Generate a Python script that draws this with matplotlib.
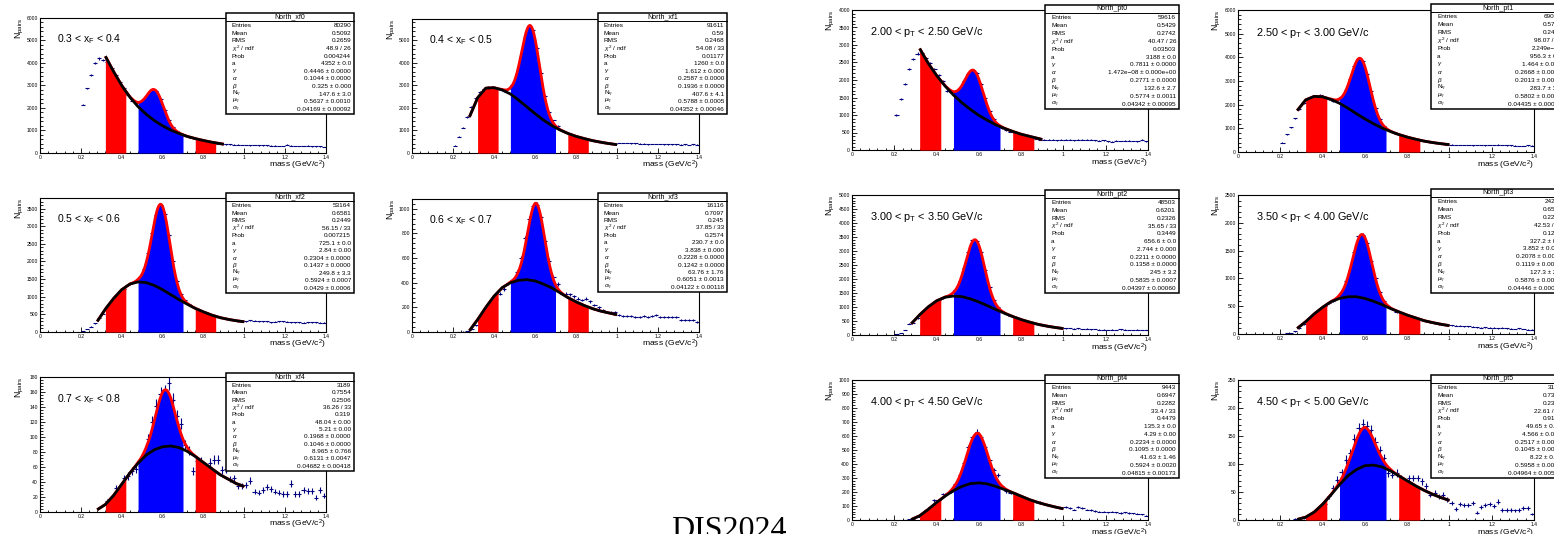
import numpy as np
import matplotlib
matplotlib.use('Agg')
import matplotlib.pyplot as plt
from matplotlib.patches import Rectangle
from matplotlib.ticker import MultipleLocator, FuncFormatter

plt.rcParams['font.family'] = ['Liberation Sans', 'DejaVu Sans']
plt.rcParams['mathtext.fontset'] = 'custom'
plt.rcParams['mathtext.rm'] = 'Liberation Sans'
plt.rcParams['mathtext.it'] = 'Liberation Sans:italic'
plt.rcParams['mathtext.bf'] = 'Liberation Sans:bold'

W, H = 1554, 534

# di-photon mass histogram: 60 bins of 20 MeV between 0.2 and 1.4 GeV
mass_edges = np.linspace(0.2, 1.4, 61)
mass = 0.5 * (mass_edges[:-1] + mass_edges[1:])

# background fit sampled along the fit range
bg_mass_long = [0.28, 0.32, 0.36, 0.40, 0.44, 0.48, 0.52, 0.56, 0.60, 0.64,
                0.68, 0.72, 0.76, 0.80, 0.84, 0.88, 0.92, 0.96, 1.00]
bg_mass_short = [0.32, 0.36, 0.40, 0.44, 0.48, 0.52, 0.56, 0.60, 0.64, 0.68,
                 0.72, 0.76, 0.80, 0.84, 0.88, 0.90]

# integration windows: sidebands (red) and eta peak (blue)
windows = [(0.32, 0.42), (0.48, 0.70), (0.76, 0.86)]
window_colors = ['#ff0000', '#0000ff', '#ff0000']

# ---------------- x_F bins ----------------
counts_xf0 = [2150, 2870, 3450, 4000, 4200, 4150, 4050, 3780, 3460, 3150,
              2880, 2560, 2330, 2200, 2250, 2400, 2620, 2780, 2760, 2420,
              1930, 1480, 1150, 960, 840, 760, 700, 650, 610, 560,
              520, 480, 450, 420, 400, 390, 385, 370, 365, 355,
              360, 345, 350, 340, 335, 340, 325, 330, 320, 315,
              370, 330, 315, 320, 305, 330, 300, 295, 300, 275]
bg_xf0 = [4300, 3620, 3000, 2480, 2060, 1720, 1440, 1210, 1020, 870,
          740, 640, 555, 480, 420, 390]

counts_xf1 = [330, 720, 1120, 1600, 2060, 2450, 2700, 2850, 2930, 2950,
              2900, 2820, 2760, 2850, 3040, 3500, 4280, 5100, 5620, 5450,
              4650, 3550, 2550, 1800, 1450, 1200, 1020, 930, 850, 770,
              710, 660, 610, 570, 530, 490, 460, 430, 400, 380,
              440, 440, 440, 430, 430, 420, 420, 390, 400, 400,
              400, 390, 390, 380, 390, 370, 380, 360, 380, 370]
bg_xf1 = [1600, 2450, 2880, 2900, 2800, 2620, 2350, 2050, 1750, 1470,
          1230, 1030, 870, 740, 640, 550, 480, 420, 370]

counts_xf2 = [30, 80, 150, 250, 400, 520, 720, 820, 1000, 1150,
              1230, 1330, 1400, 1440, 1560, 1800, 2230, 2800, 3320, 3600,
              3350, 2750, 2020, 1450, 1080, 900, 780, 720, 640, 600,
              560, 500, 470, 430, 400, 370, 350, 330, 310, 300,
              300, 330, 320, 310, 300, 310, 280, 290, 300, 300,
              290, 270, 280, 270, 260, 280, 280, 270, 260, 260]
bg_xf2 = [300, 650, 950, 1200, 1360, 1420, 1400, 1320, 1200, 1060,
          920, 790, 670, 570, 480, 410, 360, 320, 290]

counts_xf3 = [0, 2, 4, 8, 22, 55, 120, 135, 185, 230,
              270, 310, 350, 395, 420, 490, 600, 760, 920, 1020,
              1030, 930, 740, 580, 450, 390, 310, 310, 305, 290,
              270, 260, 270, 250, 220, 200, 180, 160, 160, 160,
              140, 130, 130, 130, 120, 120, 130, 125, 130, 135,
              120, 120, 120, 120, 125, 100, 100, 95, 95, 80]
bg_xf3 = [10, 100, 200, 290, 360, 400, 420, 425, 415, 390,
          360, 320, 280, 245, 215, 190, 170, 155, 140]

counts_xf4 = [0, 0, 0, 0, 0, 0, 15, 13, 32, 18,
              45, 48, 55, 57, 62, 75, 97, 120, 142, 158,
              160, 172, 150, 128, 118, 90, 82, 55, 68, 68,
              56, 66, 70, 70, 56, 57, 44, 45, 35, 35,
              36, 42, 27, 26, 29, 33, 31, 27, 26, 24,
              24, 38, 24, 24, 29, 28, 28, 19, 29, 22]
bg_xf4 = [3, 10, 22, 37, 52, 65, 76, 83, 87, 88,
          86, 81, 74, 66, 58, 50, 44, 38, 34]

# ---------------- p_T bins ----------------
counts_pt0 = [1000, 1450, 1880, 2320, 2600, 2750, 2760, 2620, 2480, 2300,
              2150, 1980, 1700, 1660, 1640, 1780, 1980, 2180, 2260, 2200,
              1880, 1480, 1120, 880, 720, 620, 560, 520, 480, 440,
              410, 370, 340, 320, 300, 290, 300, 290, 280, 290,
              300, 290, 280, 300, 300, 290, 290, 280, 270, 280,
              250, 240, 270, 260, 270, 270, 260, 250, 290, 250]
bg_pt0 = [2900, 2480, 2130, 1830, 1570, 1350, 1160, 990, 850, 720,
          620, 530, 450, 390, 330, 300]

counts_pt1 = [400, 750, 1050, 1420, 1800, 2050, 2250, 2330, 2370, 2420,
              2330, 2230, 2150, 2200, 2320, 2600, 3080, 3650, 3940, 3850,
              3300, 2560, 1880, 1400, 1090, 940, 840, 770, 710, 660,
              610, 560, 520, 480, 445, 410, 385, 360, 335, 315,
              310, 300, 300, 300, 290, 280, 300, 290, 280, 290,
              300, 310, 290, 280, 280, 270, 260, 260, 280, 270]
bg_pt1 = [1750, 2200, 2350, 2330, 2220, 2060, 1850, 1620, 1400, 1200,
          1020, 870, 740, 630, 540, 460, 400, 350, 310]

counts_pt2 = [20, 80, 180, 400, 430, 600, 790, 940, 1060, 1170,
              1250, 1320, 1370, 1420, 1600, 1920, 2380, 2960, 3380, 3360,
              2960, 2320, 1720, 1260, 990, 850, 760, 690, 630, 580,
              530, 480, 440, 400, 370, 330, 300, 280, 260, 240,
              240, 250, 230, 240, 220, 230, 200, 210, 190, 190,
              180, 190, 170, 200, 190, 180, 170, 190, 180, 170]
bg_pt2 = [400, 720, 1000, 1220, 1350, 1390, 1370, 1290, 1180, 1050,
          910, 780, 660, 550, 460, 380, 320, 270, 230]

counts_pt3 = [5, 10, 20, 45, 100, 180, 250, 320, 400, 450,
              500, 560, 600, 650, 740, 960, 1150, 1480, 1760, 1780,
              1640, 1320, 1000, 760, 600, 500, 450, 400, 380, 350,
              320, 280, 270, 250, 230, 215, 195, 180, 165, 155,
              160, 150, 150, 140, 140, 130, 120, 115, 120, 110,
              110, 100, 110, 100, 95, 90, 100, 90, 80, 75]
bg_pt3 = [100, 220, 360, 480, 580, 640, 670, 670, 640, 590,
          530, 460, 400, 340, 290, 240, 205, 175, 150]

counts_pt4 = [0, 0, 2, 4, 10, 22, 45, 70, 95, 140,
              140, 185, 190, 200, 255, 320, 410, 520, 590, 630,
              590, 520, 430, 360, 320, 240, 205, 195, 190, 175,
              165, 150, 140, 130, 125, 115, 105, 100, 90, 85,
              95, 85, 75, 95, 85, 75, 70, 65, 60, 60,
              55, 60, 55, 50, 55, 50, 48, 45, 40, 30]
bg_pt4 = [3, 30, 75, 125, 170, 210, 240, 260, 265, 258,
          240, 218, 195, 170, 145, 125, 108, 93, 80]

counts_pt5 = [0, 0, 0, 2, 2, 4, 6, 10, 15, 18,
              28, 42, 58, 72, 85, 108, 120, 145, 165, 172,
              168, 160, 140, 125, 110, 84, 81, 84, 75, 63,
              75, 75, 75, 69, 61, 45, 48, 42, 45, 36,
              30, 20, 29, 26, 26, 30, 13, 23, 26, 29,
              25, 33, 18, 18, 18, 17, 18, 21, 22, 11]
bg_pt5 = [1, 5, 14, 28, 45, 63, 79, 90, 97, 98,
          95, 88, 79, 70, 61, 53, 46, 40, 35]

# peak position / width from the fit, and fitted value at the peak
eta_mu = [0.5637, 0.5788, 0.5924, 0.6051, 0.6131,
          0.5774, 0.5802, 0.5835, 0.5876, 0.5924, 0.5958]
eta_sigma = [0.04169, 0.04352, 0.0429, 0.04122, 0.04682,
             0.04342, 0.04435, 0.04397, 0.04446, 0.04815, 0.04964]
eta_top = [2800, 5650, 3620, 1045, 163,
           2270, 3950, 3400, 1790, 620, 165]

names = ['North_xf0', 'North_xf1', 'North_xf2', 'North_xf3', 'North_xf4',
         'North_pt0', 'North_pt1', 'North_pt2', 'North_pt3', 'North_pt4', 'North_pt5']
labels = [r'0.3 < x$_{\mathrm{F}}$ < 0.4', r'0.4 < x$_{\mathrm{F}}$ < 0.5',
          r'0.5 < x$_{\mathrm{F}}$ < 0.6', r'0.6 < x$_{\mathrm{F}}$ < 0.7',
          r'0.7 < x$_{\mathrm{F}}$ < 0.8',
          r'2.00 < p$_{\mathrm{T}}$ < 2.50 GeV/c', r'2.50 < p$_{\mathrm{T}}$ < 3.00 GeV/c',
          r'3.00 < p$_{\mathrm{T}}$ < 3.50 GeV/c', r'3.50 < p$_{\mathrm{T}}$ < 4.00 GeV/c',
          r'4.00 < p$_{\mathrm{T}}$ < 4.50 GeV/c', r'4.50 < p$_{\mathrm{T}}$ < 5.00 GeV/c']
ymax = [6000, 5950, 3800, 1080, 180, 4000, 6000, 5000, 2500, 1000, 250]
ystep = [1000, 1000, 500, 200, 20, 500, 1000, 500, 500, 100, 50]

stat_names = ['Entries', 'Mean', 'RMS', r'$\chi^{2}$ / ndf', 'Prob', 'a',
              r'$\gamma$', r'$\alpha$', r'$\beta$', r'N$_{\eta}$', r'$\mu_{\eta}$', r'$\sigma_{\eta}$']
stats_xf0 = ['80290', '0.5092', '0.2659', '48.9 / 26', '0.004244', '4352 ± 0.0',
             '0.4446 ± 0.0000', '0.1044 ± 0.0000', '0.325 ± 0.000', '147.6 ± 3.0',
             '0.5637 ± 0.0010', '0.04169 ± 0.00092']
stats_xf1 = ['91611', '0.59', '0.2468', '54.08 / 33', '0.01177', '1260 ± 0.0',
             '1.612 ± 0.000', '0.2587 ± 0.0000', '0.1936 ± 0.0000', '407.6 ± 4.1',
             '0.5788 ± 0.0005', '0.04352 ± 0.00046']
stats_xf2 = ['53164', '0.6581', '0.2449', '56.15 / 33', '0.007215', '725.1 ± 0.0',
             '2.84 ± 0.00', '0.2304 ± 0.0000', '0.1437 ± 0.0000', '249.8 ± 3.3',
             '0.5924 ± 0.0007', '0.0429 ± 0.0006']
stats_xf3 = ['16116', '0.7097', '0.245', '37.85 / 33', '0.2574', '230.7 ± 0.0',
             '3.838 ± 0.000', '0.2228 ± 0.0000', '0.1242 ± 0.0000', '63.76 ± 1.76',
             '0.6051 ± 0.0013', '0.04122 ± 0.00118']
stats_xf4 = ['3189', '0.7554', '0.2506', '36.26 / 33', '0.319', '48.04 ± 0.00',
             '5.21 ± 0.00', '0.1968 ± 0.0000', '0.1046 ± 0.0000', '8.965 ± 0.766',
             '0.6131 ± 0.0047', '0.04682 ± 0.00418']
stats_pt0 = ['59616', '0.5429', '0.2742', '40.47 / 26', '0.03503', '3188 ± 0.0',
             '0.7811 ± 0.0000', '1.472e−08 ± 0.000e+00', '0.2771 ± 0.0000', '132.6 ± 2.7',
             '0.5774 ± 0.0011', '0.04342 ± 0.00095']
stats_pt1 = ['69084', '0.5784', '0.2493', '98.07 / 33', '2.249e−09', '956.3 ± 0.0',
             '1.464 ± 0.000', '0.2668 ± 0.0000', '0.2013 ± 0.0000', '283.7 ± 3.5',
             '0.5802 ± 0.0006', '0.04435 ± 0.00052']
stats_pt2 = ['48503', '0.6201', '0.2326', '35.65 / 33', '0.3449', '656.6 ± 0.0',
             '2.744 ± 0.000', '0.2211 ± 0.0000', '0.1358 ± 0.0000', '245 ± 3.2',
             '0.5835 ± 0.0007', '0.04397 ± 0.00060']
stats_pt3 = ['24287', '0.6528', '0.2241', '42.53 / 33', '0.1238', '327.2 ± 0.0',
             '3.852 ± 0.000', '0.2078 ± 0.0000', '0.1119 ± 0.0000', '127.3 ± 2.4',
             '0.5876 ± 0.0010', '0.04446 ± 0.00083']
stats_pt4 = ['9443', '0.6947', '0.2282', '33.4 / 33', '0.4479', '135.3 ± 0.0',
             '4.29 ± 0.00', '0.2234 ± 0.0000', '0.1095 ± 0.0000', '41.63 ± 1.46',
             '0.5924 ± 0.0020', '0.04815 ± 0.00173']
stats_pt5 = ['3137', '0.7325', '0.2338', '22.61 / 33', '0.9132', '49.65 ± 0.00',
             '4.566 ± 0.000', '0.2517 ± 0.0000', '0.1045 ± 0.0000', '8.22 ± 0.81',
             '0.5958 ± 0.0060', '0.04964 ± 0.00552']

all_counts = [counts_xf0, counts_xf1, counts_xf2, counts_xf3, counts_xf4,
              counts_pt0, counts_pt1, counts_pt2, counts_pt3, counts_pt4, counts_pt5]
all_bg = [bg_xf0, bg_xf1, bg_xf2, bg_xf3, bg_xf4,
          bg_pt0, bg_pt1, bg_pt2, bg_pt3, bg_pt4, bg_pt5]
all_bg_mass = [bg_mass_short, bg_mass_long, bg_mass_long, bg_mass_long, bg_mass_long,
               bg_mass_short, bg_mass_long, bg_mass_long, bg_mass_long, bg_mass_long, bg_mass_long]
all_stats = [stats_xf0, stats_xf1, stats_xf2, stats_xf3, stats_xf4,
             stats_pt0, stats_pt1, stats_pt2, stats_pt3, stats_pt4, stats_pt5]

# pad frames (left, top, right, bottom) and stat boxes (left, top, width, height), in pixels
frames = [(40, 18, 326, 153), (412, 19, 699, 153),
          (40, 198, 326, 332), (412, 199, 699, 332),
          (40, 377, 326, 512),
          (852, 10, 1148, 150), (1238, 10, 1534, 152),
          (852, 195, 1148, 335), (1238, 195, 1534, 334),
          (852, 380, 1148, 520), (1238, 380, 1534, 520)]
boxes = [(226, 13, 128, 101), (598, 13, 129, 101),
         (226, 193, 128, 100), (598, 193, 129, 99),
         (226, 373, 128, 98),
         (1045, 5, 134, 104), (1431, 4, 134, 105),
         (1045, 190, 134, 103), (1431, 189, 134, 104),
         (1045, 375, 134, 103), (1431, 375, 134, 103)]

fig = plt.figure(figsize=(W / 100, H / 100), dpi=100)


def fx(px):
    return px / W


def fy(py):
    return 1 - py / H


def stat_box(box, title, values):
    x0, y0, w, h = box
    fig.add_artist(Rectangle((fx(x0), fy(y0 + h)), w / W, h / H, transform=fig.transFigure,
                             facecolor='white', edgecolor='black', lw=1.1, zorder=5))
    title_h = 8
    fig.add_artist(plt.Line2D([fx(x0), fx(x0 + w)], [fy(y0 + title_h)] * 2,
                              transform=fig.transFigure, color='black', lw=0.7, zorder=6))
    fig.text(fx(x0 + w / 2), fy(y0 + title_h / 2), title, ha='center', va='center',
             fontsize=5, zorder=7)
    row_h = (h - title_h - 2) / len(values)
    for i, (nm, val) in enumerate(zip(stat_names, values)):
        yc = y0 + title_h + 1 + row_h * (i + 0.5)
        fig.text(fx(x0 + 6), fy(yc), nm, ha='left', va='center', fontsize=4.6, zorder=7)
        fig.text(fx(x0 + w - 3), fy(yc), val, ha='right', va='center', fontsize=4.6, zorder=7)


tick_fmt = FuncFormatter(lambda v, p: '%g' % v)

for i in range(len(names)):
    l, t, r, b = frames[i]
    ax = fig.add_axes([fx(l), fy(b), (r - l) / W, (b - t) / H])
    counts = np.asarray(all_counts[i], dtype=float)
    keep = counts > 0
    ax.errorbar(mass[keep], counts[keep], xerr=0.01, yerr=0.7 * np.sqrt(counts[keep]),
                fmt='none', ecolor='#000080', elinewidth=0.8, zorder=2)

    bgx, bgy = all_bg_mass[i], all_bg[i]
    amp = eta_top[i] - np.interp(eta_mu[i], bgx, bgy)

    def fit_total(x):
        return np.interp(x, bgx, bgy) + amp * np.exp(-0.5 * ((x - eta_mu[i]) / eta_sigma[i]) ** 2)

    for (lo, hi), c in zip(windows, window_colors):
        xs = np.linspace(lo, hi, 120)
        ax.fill_between(xs, 0, fit_total(xs), color=c, lw=0, zorder=3)
    xs = np.linspace(bgx[0], bgx[-1], 600)
    ax.plot(xs, fit_total(xs), color='#ff0000', lw=2.0, zorder=4, solid_capstyle='butt')
    ax.plot(bgx, bgy, color='black', lw=2.0, zorder=5, solid_capstyle='butt')

    ax.set_xlim(0, 1.4)
    ax.set_ylim(0, ymax[i])
    ax.xaxis.set_major_locator(MultipleLocator(0.2))
    ax.xaxis.set_minor_locator(MultipleLocator(0.04))
    ax.yaxis.set_major_locator(MultipleLocator(ystep[i]))
    ax.yaxis.set_minor_locator(MultipleLocator(ystep[i] / 5))
    ax.xaxis.set_major_formatter(tick_fmt)
    ax.yaxis.set_major_formatter(tick_fmt)
    ax.tick_params(which='both', direction='in', top=False, right=False,
                   labelsize=3.6, width=0.6, pad=1.5, colors='black')
    ax.tick_params(which='major', length=3.6)
    ax.tick_params(which='minor', length=1.8)
    for sp in ax.spines.values():
        sp.set_linewidth(0.8)

    ax.text(0.06, 0.84, labels[i], transform=ax.transAxes, ha='left', va='center',
            fontsize=7.5 if i < 5 else 7.8)
    ax.text(-0.07, 1.0, r'N$_{\mathrm{pairs}}$', transform=ax.transAxes, rotation=90,
            ha='center', va='top', fontsize=6.2)
    ax.text(1.0, -0.045, r'mass (GeV/c$^{2}$)', transform=ax.transAxes,
            ha='right', va='top', fontsize=6.1)

    stat_box(boxes[i], names[i], all_stats[i])

fig.text(fx(729), fy(538), 'DIS2024', ha='center', va='baseline', fontsize=23,
         family='Liberation Serif')

fig.savefig('out.png', dpi=100)
